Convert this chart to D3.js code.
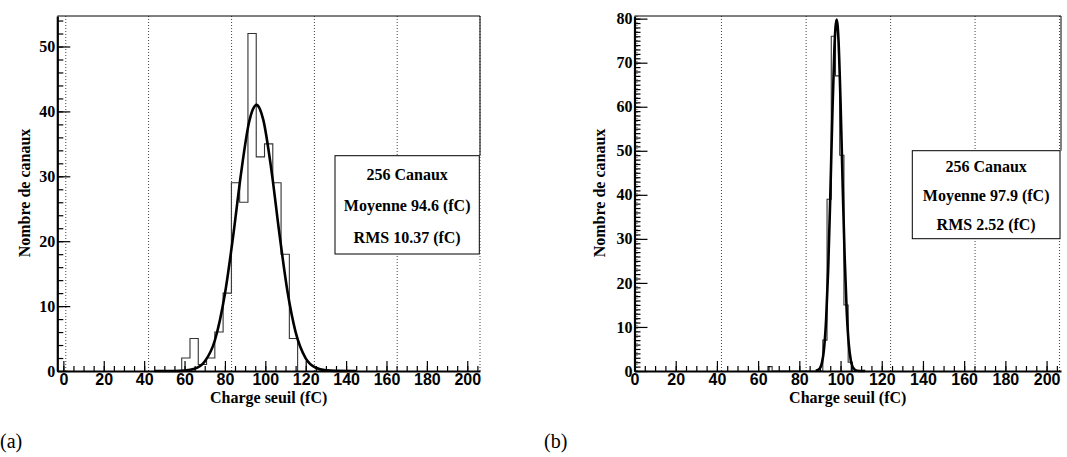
<!DOCTYPE html>
<html>
<head>
<meta charset="utf-8">
<script src="https://cdn.jsdelivr.net/npm/d3@7/dist/d3.min.js"></script>
<style>
  html, body { margin: 0; padding: 0; background: #fff; }
  svg { display: block; }
</style>
</head>
<body>
<svg id="chart" width="1067" height="457"></svg>
<script>
// ---------------- data ----------------
const gridValues = [1.2, 42.2, 83.3, 124.3, 165.3, 206.3];
const xTickLabels = [0, 20, 40, 60, 80, 100, 120, 140, 160, 180, 200];
const yTickLabelsLeft = [0, 10, 20, 30, 40, 50];
const yTickLabelsRight = [0, 10, 20, 30, 40, 50, 60, 70, 80];

// panel (a)
const leftBinLow = [58.6, 62.7, 66.8, 70.9, 75.0, 79.1, 83.2, 87.3, 91.4, 95.5, 99.6, 103.7, 107.8, 111.9];
const leftCounts = [2, 5, 1, 2, 6, 12, 29, 26, 52, 33, 35, 29, 18, 5];
const leftBinWidth = 4.1;
const leftFitX = [45, 55, 60, 65, 70, 75, 80, 84, 88, 92, 93.8, 95.6, 97.4, 99, 103, 107, 111, 115, 120, 125, 130, 135, 145];
const leftFitY = [0, 0.01, 0.06, 0.34, 1.45, 4.7, 11.9, 20.6, 30.5, 38.4, 40.3, 41, 40.3, 38.7, 31.0, 21.1, 12.2, 6.0, 1.96, 0.5, 0.1, 0.02, 0];
const leftStats = ["256 Canaux", "Moyenne 94.6 (fC)", "RMS 10.37 (fC)"];

// panel (b)
const rightBinLow = [64.75, 91.4, 93.45, 95.5, 97.55, 99.6, 101.65, 103.7];
const rightCounts = [1, 7, 39, 76, 67, 49, 15, 2];
const rightBinWidth = 2.05;
const rightFitX = [88, 90, 91, 92, 93, 94, 95, 96, 97, 97.5, 98.1, 98.6, 99, 100, 101, 102, 103, 104, 105, 106, 108, 112];
const rightFitY = [0.04, 0.62, 1.9, 5.1, 11.7, 23.0, 39.2, 57.6, 73.0, 77.7, 79.8, 78.3, 75.2, 61.1, 42.8, 25.9, 13.5, 6.1, 2.4, 0.79, 0.06, 0];
const rightStats = ["256 Canaux", "Moyenne 97.9 (fC)", "RMS 2.52 (fC)"];

const xTitle = "Charge seuil (fC)";
const yTitle = "Nombre de canaux";

// ---------------- drawing ----------------
const SERIF = "'Liberation Serif', 'Times New Roman', serif";
const SANS = "'Liberation Sans', Arial, sans-serif";
const svg = d3.select("#chart");

function drawPanel(cfg) {
  const g = svg.append("g");
  const x = d3.scaleLinear().domain(cfg.xDomain).range([cfg.left, cfg.right]);
  const y = d3.scaleLinear().domain(cfg.yDomain).range([cfg.bottom, cfg.top]);

  // dotted grid
  g.append("g").selectAll("line").data(gridValues).join("line")
    .attr("x1", d => x(d)).attr("x2", d => x(d))
    .attr("y1", cfg.top).attr("y2", cfg.bottom)
    .attr("stroke", "#444").attr("stroke-width", 1)
    .attr("stroke-dasharray", "1,2");

  // histogram outline
  const pts = [];
  cfg.binLow.forEach((lo, i) => {
    const hi = lo + cfg.binWidth;
    if (i === 0) pts.push([lo, 0]);
    else {
      const prevHi = cfg.binLow[i - 1] + cfg.binWidth;
      if (lo - prevHi > 1e-6) { pts.push([prevHi, 0]); pts.push([lo, 0]); }
    }
    pts.push([lo, cfg.counts[i]]);
    pts.push([hi, cfg.counts[i]]);
  });
  pts.push([cfg.binLow[cfg.binLow.length - 1] + cfg.binWidth, 0]);
  g.append("path")
    .attr("d", d3.line().x(d => x(d[0])).y(d => y(d[1]))(pts))
    .attr("fill", "none").attr("stroke", "#333").attr("stroke-width", 1.1);

  // fit curve
  const fit = cfg.fitX.map((v, i) => [v, cfg.fitY[i]]);
  g.append("path")
    .attr("d", d3.line().x(d => x(d[0])).y(d => y(d[1])).curve(d3.curveMonotoneX)(fit))
    .attr("fill", "none").attr("stroke", "#000").attr("stroke-width", 2.6);

  // frame: top and partial right
  g.append("line").attr("x1", cfg.left).attr("x2", cfg.right)
    .attr("y1", cfg.top).attr("y2", cfg.top).attr("stroke", "#000").attr("stroke-width", 1);
  g.append("line").attr("x1", cfg.right).attr("x2", cfg.right)
    .attr("y1", cfg.top).attr("y2", cfg.box.y0).attr("stroke", "#000").attr("stroke-width", 1);

  // x axis minor ticks
  const xMinor = d3.range(0, 206, 5);
  g.append("g").attr("transform", `translate(0,${cfg.bottom})`)
    .call(d3.axisBottom(x).tickValues(xMinor).tickSize(-5).tickSizeOuter(0).tickFormat(""))
    .call(a => a.select(".domain").remove())
    .call(a => a.selectAll("line").attr("stroke", "#000").attr("stroke-width", 1.2));
  // x axis major
  const xa = g.append("g").attr("transform", `translate(0,${cfg.bottom})`)
    .call(d3.axisBottom(x).tickValues(xTickLabels).tickSize(-10).tickSizeOuter(0).tickPadding(3).tickFormat(d3.format("d")));
  xa.select(".domain").attr("stroke", "#000").attr("stroke-width", 2.2);
  xa.selectAll("line").attr("stroke", "#000").attr("stroke-width", 1.2);
  xa.selectAll("text").attr("font-family", SANS).attr("font-weight", "bold")
    .attr("font-size", 16).attr("fill", "#000");

  // y axis minor ticks
  const yMinor = d3.range(0, cfg.yDomain[1], cfg.yMinorStep);
  g.append("g").attr("transform", `translate(${cfg.left},0)`)
    .call(d3.axisLeft(y).tickValues(yMinor).tickSize(-6).tickSizeOuter(0).tickFormat(""))
    .call(a => a.select(".domain").remove())
    .call(a => a.selectAll("line").attr("stroke", "#000").attr("stroke-width", 1.2));
  const ya = g.append("g").attr("transform", `translate(${cfg.left},0)`)
    .call(d3.axisLeft(y).tickValues(cfg.yTicks).tickSize(-13).tickSizeOuter(0).tickPadding(2).tickFormat(d3.format("d")));
  ya.select(".domain").attr("stroke", "#000").attr("stroke-width", 2.2);
  ya.selectAll("line").attr("stroke", "#000").attr("stroke-width", 1.2);
  ya.selectAll("text").attr("font-family", SERIF).attr("font-weight", "bold")
    .attr("font-size", 16).attr("fill", "#000");

  // axis titles
  g.append("text")
    .attr("x", (cfg.left + cfg.right) / 2).attr("y", 403)
    .attr("text-anchor", "middle")
    .attr("font-family", SERIF).attr("font-weight", "bold").attr("font-size", 16)
    .text(xTitle);
  g.append("text")
    .attr("transform", `translate(${cfg.yTitleX},193) rotate(-90)`)
    .attr("text-anchor", "middle")
    .attr("font-family", SERIF).attr("font-weight", "bold").attr("font-size", 16)
    .text(yTitle);

  // stats box
  const b = cfg.box;
  g.append("rect").attr("x", b.x0).attr("y", b.y0)
    .attr("width", b.x1 - b.x0).attr("height", b.y1 - b.y0)
    .attr("fill", "#fff").attr("stroke", "#000").attr("stroke-width", 1);
  g.append("g").selectAll("text").data(cfg.stats).join("text")
    .attr("x", (b.x0 + b.x1) / 2)
    .attr("y", (d, i) => b.base + i * b.step)
    .attr("text-anchor", "middle")
    .attr("font-family", SERIF).attr("font-weight", "bold").attr("font-size", 16)
    .text(d => d);

  // panel label
  svg.append("text").attr("x", cfg.labelX).attr("y", 448)
    .attr("font-family", SERIF).attr("font-size", 20)
    .text(cfg.label);
}

drawPanel({
  left: 57.3, right: 480, top: 16, bottom: 371,
  xDomain: [-3, 206.3], yDomain: [0, 54.7],
  yTicks: yTickLabelsLeft, yMinorStep: 2,
  binLow: leftBinLow, counts: leftCounts, binWidth: leftBinWidth,
  fitX: leftFitX, fitY: leftFitY, stats: leftStats,
  box: { x0: 335, x1: 479.3, y0: 155.7, y1: 254, base: 179.5, step: 31.7 },
  yTitleX: 29.5, label: "(a)", labelX: 0
});

drawPanel({
  left: 634.5, right: 1061, top: 16, bottom: 371,
  xDomain: [0, 207], yDomain: [0, 80.6],
  yTicks: yTickLabelsRight, yMinorStep: 1,
  binLow: rightBinLow, counts: rightCounts, binWidth: rightBinWidth,
  fitX: rightFitX, fitY: rightFitY, stats: rightStats,
  box: { x0: 912.3, x1: 1060, y0: 150.7, y1: 238.7, base: 172, step: 28.8 },
  yTitleX: 605, label: "(b)", labelX: 544
});
</script>
</body>
</html>
